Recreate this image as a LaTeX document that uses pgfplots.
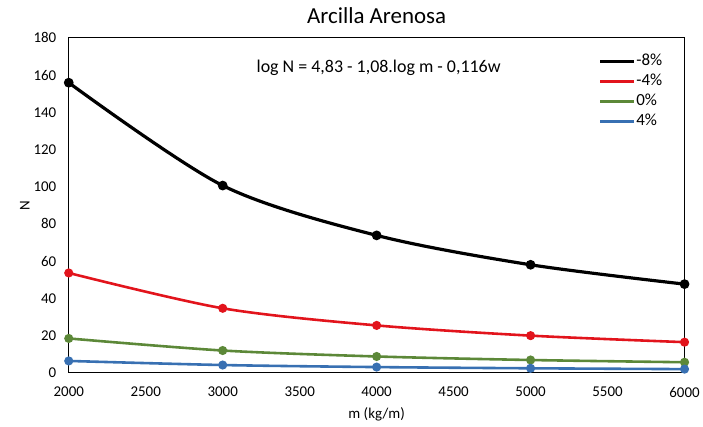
\documentclass[border=0pt]{standalone}
\usepackage{pgfplots}
\pgfplotsset{compat=1.18}
\usepackage{fontspec}
\setmainfont{Carlito}
\definecolor{cred}{RGB}{226,20,28}
\definecolor{cgreen}{RGB}{92,136,56}
\definecolor{cblue}{RGB}{56,112,178}
\begin{document}
\begin{tikzpicture}
\begin{axis}[
  name=ax,
  scale only axis,
  width=618pt, height=336pt,
  xmin=2000, xmax=6000, ymin=0, ymax=180,
  xtick={2000,2500,...,6000}, ytick={0,20,...,180},
  /pgf/number format/assume math mode=true,
  xticklabel style={/pgf/number format/1000 sep={}, font=\fontsize{15}{17}\selectfont, yshift=-11pt},
  yticklabel style={font=\fontsize{15}{17}\selectfont, xshift=-9pt},
  tick style={draw=none},
  axis line style={black, line width=0.8pt},
  xlabel={m (kg/m)}, ylabel={N},
  xlabel style={font=\fontsize{15}{17}\selectfont, yshift=-3pt},
  ylabel style={font=\fontsize{15}{17}\selectfont, yshift=-3pt},
  title={Arcilla Arenosa},
  title style={font=\fontsize{23}{26}\selectfont, yshift=5pt},
  legend style={draw=none, fill=none, at={(0.965,0.955)}, anchor=north east,
    font=\fontsize{17}{19}\selectfont, row sep=3pt, inner sep=0pt,
    nodes={inner sep=0.5pt, text height=12pt, text depth=4pt}},
  legend image code/.code={\draw[#1, mark=none] (0pt,0pt) -- (34pt,0pt);},
  legend cell align=left,
  every axis plot/.append style={smooth, mark=*, mark size=3.2pt},
  clip=false,
]
\addplot[black, line width=3.2pt] coordinates {(2000,155.9) (3000,100.6) (4000,73.8) (5000,58.0) (6000,47.6)};
\addplot[cred, line width=2.6pt, mark options={fill=cred}] coordinates {(2000,53.6) (3000,34.6) (4000,25.4) (5000,19.9) (6000,16.4)};
\addplot[cgreen, line width=2.6pt, mark options={fill=cgreen}] coordinates {(2000,18.4) (3000,11.9) (4000,8.7) (5000,6.8) (6000,5.6)};
\addplot[cblue, line width=2.6pt, mark options={fill=cblue}] coordinates {(2000,6.3) (3000,4.1) (4000,3.0) (5000,2.35) (6000,1.9)};
\legend{-8\%,-4\%,0\%,4\%}
\node[font=\fontsize{18}{21}\selectfont] at (axis cs:4013,164) {log N = 4,83 - 1,08.log m - 0,116w};
\end{axis}
\path[use as bounding box] ([shift={(-69pt,-54pt)}]ax.south west) rectangle ([shift={(16pt,38pt)}]ax.north east);
\end{tikzpicture}
\end{document}
